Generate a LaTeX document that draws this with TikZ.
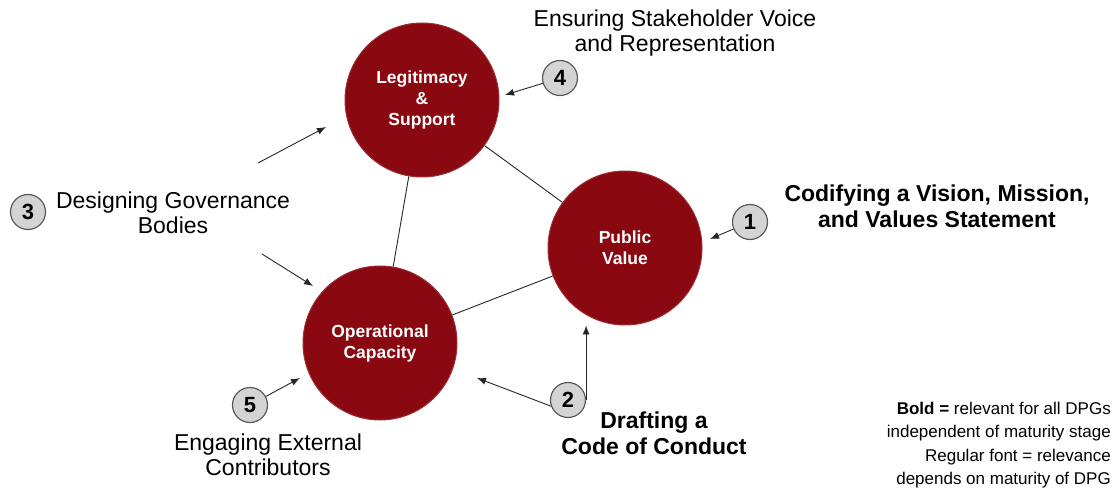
\documentclass[tikz,border=0pt]{standalone}
\usepackage{fontspec}
\setmainfont{Liberation Sans}
\usetikzlibrary{arrows.meta}
\definecolor{pillarred}{HTML}{8A0810}
\definecolor{numgray}{HTML}{D4D4D4}
\tikzset{
  pillar/.style={circle,fill=pillarred,draw=pillarred!85!white,line width=1pt,minimum size=154pt,
    text=white,font=\fontsize{17.5}{21}\selectfont\bfseries,align=center,inner sep=0pt},
  numbox/.style={circle,fill=numgray,draw=black!65,line width=1.2pt,minimum size=35pt,
    font=\fontsize{22}{22}\selectfont\bfseries,inner sep=0pt},
  actlabel/.style={font=\fontsize{23}{25}\selectfont,align=center,inner sep=0pt},
  actbold/.style={actlabel,font=\fontsize{23}{26}\selectfont\bfseries},
  arr/.style={-{Latex[length=9pt,width=7pt]},line width=0.9pt,black!85},
}
\begin{document}
\begin{tikzpicture}[x=1pt,y=-1pt]
  \useasboundingbox (0,0) rectangle (1120,489);

  % the three pillars
  \node[pillar] (leg) at (422,100) {Legitimacy\\\&\\Support};
  \node[pillar] (pv) at (625,248) {Public\\Value};
  \node[pillar] (opc) at (380,343) {Operational\\Capacity};
  \draw[line width=0.9pt,black!85] (leg) -- (pv);
  \draw[line width=0.9pt,black!85] (leg) -- (opc);
  \draw[line width=0.9pt,black!85] (opc) -- (pv);

  % numbered activities
  \node[numbox] (n1) at (750,222) {1};
  \node[numbox] (n2) at (568,400) {2};
  \node[numbox] (n3) at (28,212) {3};
  \node[numbox] (n4) at (560,78) {4};
  \node[numbox] (n5) at (250,405) {5};

  \node[actbold] (t1) at (937,206) {Codifying a Vision, Mission,\\and Values Statement};
  \node[actbold] (t2) at (654,433) {Drafting a\\Code of Conduct};
  \node[actlabel] (t3) at (173,213) {Designing Governance\\Bodies};
  \node[actlabel] (t4) at (675,33) {Ensuring Stakeholder Voice\\and Representation};
  \node[actlabel] (t5) at (268,455) {Engaging External\\Contributors};

  % arrows
  \coordinate (a3top) at (258,163);
  \coordinate (a3bot) at (262,254);
  \coordinate (legin) at (326,127);
  \coordinate (opcin) at (313,286);
  \coordinate (opcin2) at (300,378);
  \coordinate (legin2) at (505,95);
  \coordinate (pvin) at (710,239);
  \coordinate (opcin3) at (477,378);
  \draw[arr] (n1) -- (pvin);
  \draw[arr] (n2.east) -- (n2.east |- pv.south);
  \draw[arr] (n2.200) -- (opcin3);
  \draw[arr] (a3top) -- (legin);
  \draw[arr] (a3bot) -- (opcin);
  \draw[arr] (n4) -- (legin2);
  \draw[arr] (n5) -- (opcin2);

  % legend
  \node[anchor=north east,align=right,inner sep=0pt,font=\fontsize{17}{23.3}\selectfont] (key) at (1111,402)
    {\textbf{Bold =} relevant for all DPGs\\independent of maturity stage\\Regular font = relevance\\depends on maturity of DPG};
\end{tikzpicture}
\end{document}
